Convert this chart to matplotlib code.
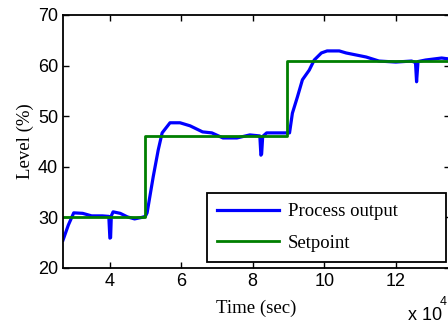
import numpy as np
import matplotlib
matplotlib.use("Agg")
import matplotlib.pyplot as plt

# time in units of 1e4 s
t_out = [2.70, 2.85, 3.00, 3.25, 3.50, 3.80, 3.98, 4.01, 4.03, 4.05, 4.10, 4.30, 4.50, 4.70, 4.90, 5.00,
         5.05, 5.22, 5.36, 5.47, 5.69, 5.97, 6.25, 6.60, 6.86, 7.17, 7.56, 7.92, 8.20, 8.23, 8.25, 8.28,
         8.39, 8.94, 9.03, 9.11, 9.25, 9.39, 9.58, 9.72, 9.92, 10.08, 10.42, 10.61, 10.89, 11.17, 11.53,
         12.00, 12.44, 12.55, 12.58, 12.62, 12.83, 13.28, 13.50]
y_out = [25.5, 28.5, 30.9, 30.8, 30.3, 30.3, 30.2, 25.9, 26.0, 30.3, 31.1, 30.8, 30.1, 29.7, 30.0, 30.2,
         30.9, 38.0, 43.3, 46.7, 48.7, 48.7, 48.1, 46.9, 46.7, 45.7, 45.7, 46.3, 46.1, 42.3, 42.5, 46.0,
         46.7, 46.7, 46.7, 50.6, 53.8, 57.2, 59.1, 61.1, 62.5, 62.9, 62.9, 62.5, 62.1, 61.7, 60.9,
         60.7, 60.9, 60.6, 56.8, 60.8, 61.1, 61.5, 61.3]

t_sp = [2.70, 5.00, 5.00, 8.97, 8.97, 13.50]
y_sp = [30, 30, 46, 46, 61, 61]

x_ticks = [4, 6, 8, 10, 12]
y_ticks = [20, 30, 40, 50, 60, 70]

serif = "Liberation Serif"
sans = "Liberation Sans"

fig = plt.figure(figsize=(4.48, 3.23), dpi=100)
ax = fig.add_axes([63 / 448, 1 - 268 / 323, (449.5 - 63) / 448, 253 / 323])

ax.plot(t_out, y_out, color="#0000ff", lw=2.3, label="Process output")
ax.plot(t_sp, y_sp, color="#007f00", lw=2.0, label="Setpoint")

ax.set_xlim(2.7, 13.5)
ax.set_ylim(20, 70)
ax.set_xticks(x_ticks)
ax.set_yticks(y_ticks)
ax.tick_params(direction="in", length=4, width=1, top=True, right=True, labelsize=13)
for lab in ax.get_xticklabels() + ax.get_yticklabels():
    lab.set_family(sans)
for s in ax.spines.values():
    s.set_linewidth(1.3)

ax.set_xlabel("Time (sec)", family=serif, fontsize=13.5, labelpad=7)
ax.set_ylabel("Level (%)", family=serif, fontsize=13.5, labelpad=3)

# axis multiplier, drawn by hand like MATLAB's
fig.text(408 / 448, 1 - 320 / 323, "x 10", family=sans, fontsize=13, va="baseline")
fig.text(440 / 448, 1 - 305 / 323, "4", family=sans, fontsize=9, va="baseline")

leg = ax.legend(loc="lower left", mode="expand",
                bbox_to_anchor=(207 / 448, 1 - 262 / 323, 239 / 448, 67 / 323),
                bbox_transform=fig.transFigure, prop={"family": serif, "size": 13.5},
                fancybox=False, framealpha=1, edgecolor="black", handlelength=3.3,
                handletextpad=0.45, borderaxespad=0, borderpad=0.55, labelspacing=0.75)
leg.get_frame().set_linewidth(1.3)

fig.savefig("out.png", dpi=100)
